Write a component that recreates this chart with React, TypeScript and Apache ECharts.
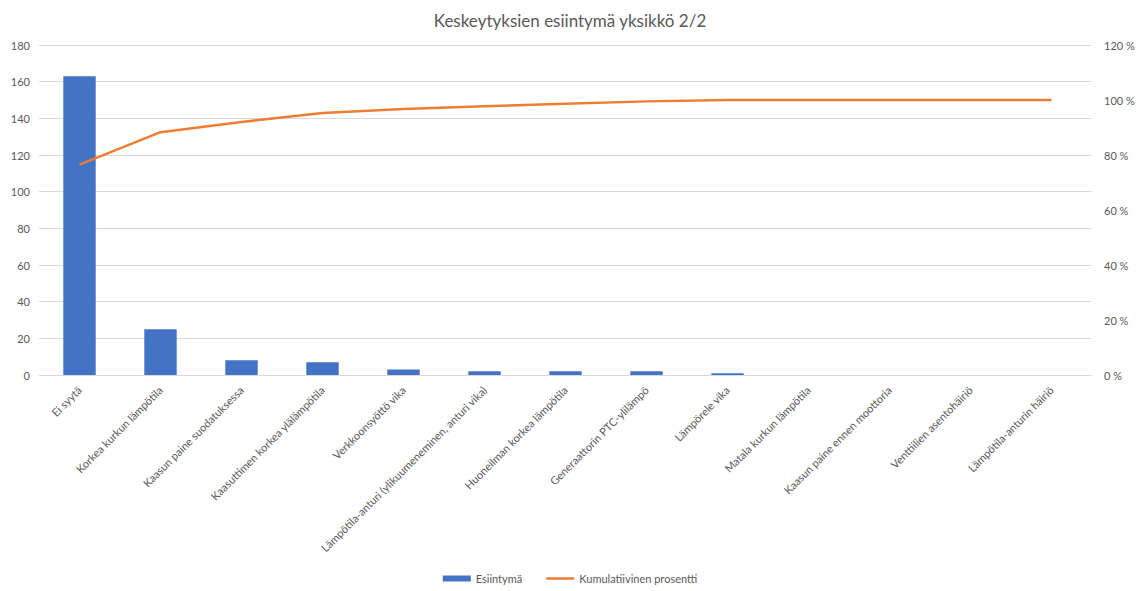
import React, { useEffect, useRef } from "react";
import * as echarts from "echarts";

const categories = [
  "Ei syytä",
  "Korkea kurkun lämpötila",
  "Kaasun paine suodatuksessa",
  "Kaasuttimen korkea ylälämpötila",
  "Verkkoonsyöttö vika",
  "Lämpötila-anturi (ylikuumeneminen, anturi vika)",
  "Huoneilman korkea lämpötila",
  "Generaattorin PTC-ylilämpö",
  "Lämpörele vika",
  "Matala kurkun lämpötila",
  "Kaasun paine ennen moottoria",
  "Venttiilien asentohäiriö",
  "Lämpötila-anturin häiriö",
];
const counts = [163, 25, 8, 7, 3, 2, 2, 2, 1, 0, 0, 0, 0];
const cumulativePct = [76.5, 88.3, 92.0, 95.3, 96.7, 97.7, 98.6, 99.5, 100, 100, 100, 100, 100];
const leftTicks = { min: 0, max: 180, interval: 20 };
const rightTicks = { min: 0, max: 120, interval: 20 };

const FONT = "Lato, 'Open Sans', sans-serif";
const TXT = "#595959";

export default function App() {
  const ref = useRef<HTMLDivElement>(null);
  useEffect(() => {
    document.body.style.margin = "0";
    const chart = echarts.init(ref.current!, null, { renderer: "svg" });
    chart.setOption({
      animation: false,
      textStyle: { fontFamily: FONT },
      title: {
        text: "Keskeytyksien esiintymä yksikkö 2/2",
        left: "center",
        top: 7,
        textStyle: { fontFamily: FONT, fontSize: 17, fontWeight: "normal", color: TXT },
      },
      grid: { left: 39, right: 48, top: 45, bottom: 216, containLabel: false },
      legend: {
        bottom: 2,
        left: "center",
        itemWidth: 28,
        itemHeight: 6,
        itemGap: 24,
        textStyle: { color: TXT, fontSize: 11, fontFamily: FONT },
        data: [
          { name: "Esiintymä", icon: "rect" },
          { name: "Kumulatiivinen prosentti", icon: "path://M0,0H28V2.5H0Z" },
        ],
      },
      xAxis: {
        type: "category",
        data: categories,
        axisTick: { show: false },
        axisLine: { lineStyle: { color: "#d9d9d9" } },
        axisLabel: {
          rotate: 45,
          interval: 0,
          color: TXT,
          fontSize: 11,
          fontFamily: FONT,
          margin: 13,
        },
      },
      yAxis: [
        {
          type: "value",
          ...leftTicks,
          axisLine: { show: false },
          axisTick: { show: false },
          splitLine: { lineStyle: { color: "#d9d9d9" } },
          axisLabel: { color: TXT, fontSize: 11, fontFamily: FONT, margin: 9 },
        },
        {
          type: "value",
          ...rightTicks,
          position: "right",
          axisLine: { show: false },
          axisTick: { show: false },
          splitLine: { show: false },
          axisLabel: { color: TXT, fontSize: 11, fontFamily: FONT, formatter: "{value} %", margin: 12 },
        },
      ],
      series: [
        {
          name: "Esiintymä",
          type: "bar",
          data: counts,
          barWidth: "40%",
          itemStyle: { color: "#4472C4" },
        },
        {
          name: "Kumulatiivinen prosentti",
          type: "line",
          yAxisIndex: 1,
          data: cumulativePct,
          symbol: "none",
          lineStyle: { color: "#ED7D31", width: 2.5 },
          itemStyle: { color: "#ED7D31" },
        },
      ],
    });
    return () => chart.dispose();
  }, []);
  return <div ref={ref} style={{ width: 1140, height: 591 }} />;
}
